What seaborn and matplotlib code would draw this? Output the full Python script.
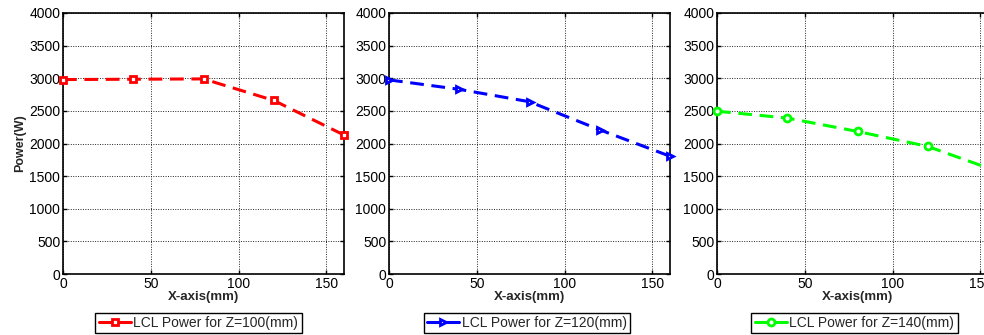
import matplotlib
matplotlib.use("Agg")
import matplotlib.pyplot as plt
import seaborn as sns
import pandas as pd

sns.set_theme(style="white")
plt.rcParams['font.family'] = ['Liberation Sans', 'DejaVu Sans']

x_mm = [0, 40, 80, 120, 160]
power_z100 = [2980, 2985, 2990, 2660, 2130]
power_z120 = [2975, 2830, 2640, 2210, 1805]
power_z140 = [2495, 2390, 2185, 1955, 1570]
labels = ["LCL Power for Z=100(mm)", "LCL Power for Z=120(mm)", "LCL Power for Z=140(mm)"]
colors = ["#ff0000", "#0000ff", "#00ff00"]
markers = ["s", ">", "o"]
series = [power_z100, power_z120, power_z140]
yticks = [0, 500, 1000, 1500, 2000, 2500, 3000, 3500, 4000]
xticks = [0, 50, 100, 150]

fig = plt.figure(figsize=(9.84, 3.35), dpi=100)
lefts = [63 / 984, 389 / 984, 717 / 984]
legend_cx = [198.5 / 984, 527 / 984, 854.5 / 984]
w = 281 / 984
b = 1 - 274 / 335
h = (274 - 13) / 335

for i in range(3):
    ax = fig.add_axes([lefts[i], b, w, h])
    df = pd.DataFrame({"x": x_mm, "y": series[i]})
    sns.lineplot(data=df, x="x", y="y", ax=ax, color=colors[i], linestyle=(0, (4.5, 2.5)),
                 linewidth=2.2, marker=markers[i], markersize=5,
                 markerfacecolor="white", markeredgecolor=colors[i], markeredgewidth=2.0,
                 label=labels[i], clip_on=False, zorder=5)
    ax.set_xlim(0, 160)
    ax.set_ylim(0, 4000)
    ax.set_xticks(xticks)
    ax.set_yticks(yticks)
    ax.grid(True, color="#222222", linestyle=(0, (1, 1.5)), linewidth=0.7)
    for sp in ax.spines.values():
        sp.set_visible(True)
        sp.set_color("black")
        sp.set_linewidth(1.2)
    ax.tick_params(axis="both", labelsize=10, colors="black", direction="in",
                   length=3, width=1, pad=2, bottom=True, left=True, top=True, right=True,
                   labeltop=False, labelright=False)
    ax.set_xlabel("X-axis(mm)", fontsize=9.5, fontweight="bold", labelpad=0)
    if i == 0:
        ax.set_ylabel("Power(W)", fontsize=9, fontweight="bold", labelpad=2)
    else:
        ax.set_ylabel("")
    leg = ax.legend(loc="center", bbox_to_anchor=(legend_cx[i], 1 - 323 / 335),
                    bbox_transform=fig.transFigure, fontsize=10, frameon=True,
                    fancybox=False, edgecolor="black", framealpha=1,
                    handlelength=2.3, handletextpad=0.2, borderpad=0.25,
                    borderaxespad=0)
    leg.get_frame().set_linewidth(1.0)
    for ln in leg.get_lines():
        ln.set_linestyle("-")

fig.savefig("out.png", dpi=100, facecolor="white")
